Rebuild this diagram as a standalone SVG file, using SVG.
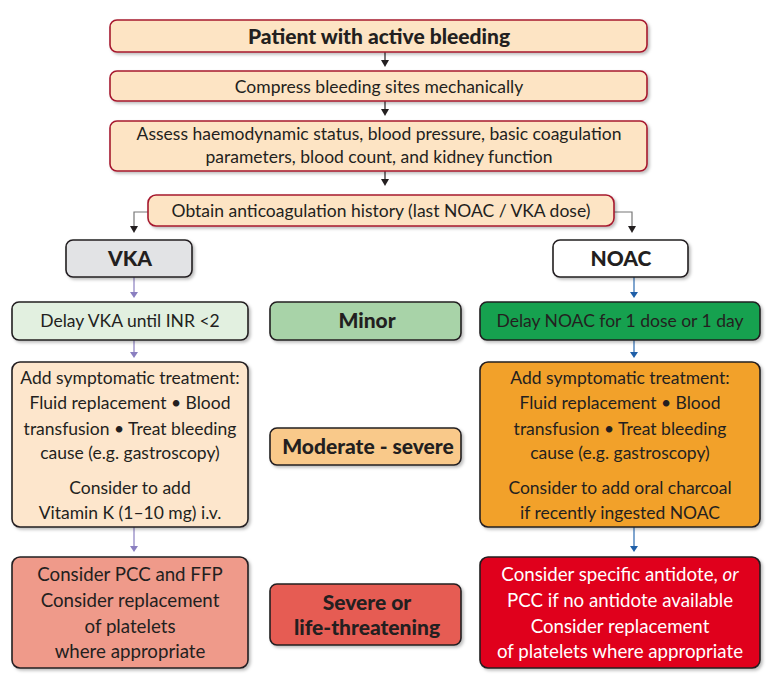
<svg xmlns="http://www.w3.org/2000/svg" width="768" height="689" viewBox="0 0 768 689">
<defs>
<filter id="sh" x="-10%" y="-10%" width="130%" height="140%">
<feDropShadow dx="2" dy="2" stdDeviation="1.5" flood-color="#000" flood-opacity="0.25"/>
</filter>
</defs>
<style>
text{font-family:Lato,"Open Sans","Liberation Sans",sans-serif;font-size:17.5px;fill:#231f20;text-anchor:middle}
.b{font-weight:900;font-size:21px}
.s{font-size:18.7px}
.w{fill:#fff}
.top{fill:#fde4c4;stroke:#a6192e;stroke-width:1.6;filter:url(#sh)}
.bx{stroke:#231f20;stroke-width:1.6;filter:url(#sh)}
.ln{fill:none;stroke-width:1.2}
</style>
<rect width="768" height="689" fill="#fff"/>

<g id="connectors">
<line class="ln" x1="385" y1="52" x2="385" y2="60" stroke="#231f20"/><path d="M381,60 L389,60 L385,67 Z" fill="#231f20"/>
<line class="ln" x1="385" y1="101" x2="385" y2="109" stroke="#231f20"/><path d="M381,109 L389,109 L385,116 Z" fill="#231f20"/>
<line class="ln" x1="385" y1="171" x2="385" y2="179" stroke="#231f20"/><path d="M381,179 L389,179 L385,186 Z" fill="#231f20"/>
<path class="ln" d="M148,212 H134 V226" stroke="#777"/><path d="M130,226 L138,226 L134,233 Z" fill="#231f20"/>
<path class="ln" d="M614,212 H632 V226" stroke="#777"/><path d="M628,226 L636,226 L632,233 Z" fill="#231f20"/>
<line class="ln" x1="134" y1="277" x2="134" y2="292" stroke="#8a7fc0"/><path d="M130,292 L138,292 L134,298 Z" fill="#8a7fc0"/>
<line class="ln" x1="134" y1="340" x2="134" y2="352" stroke="#8a7fc0"/><path d="M130,352 L138,352 L134,358 Z" fill="#8a7fc0"/>
<line class="ln" x1="134" y1="527" x2="134" y2="546" stroke="#8a7fc0"/><path d="M130,546 L138,546 L134,552 Z" fill="#8a7fc0"/>
<line class="ln" x1="634" y1="277" x2="634" y2="292" stroke="#2a6ab0"/><path d="M630,292 L638,292 L634,298 Z" fill="#1f5fa8"/>
<line class="ln" x1="634" y1="340" x2="634" y2="352" stroke="#2a6ab0"/><path d="M630,352 L638,352 L634,358 Z" fill="#1f5fa8"/>
<line class="ln" x1="634" y1="527" x2="634" y2="546" stroke="#2a6ab0"/><path d="M630,546 L638,546 L634,552 Z" fill="#1f5fa8"/>
</g>

<g id="n1"><rect class="top" x="110" y="20" width="537" height="32" rx="7"/><text class="b" x="379" y="44">Patient with active bleeding</text></g>
<g id="n2"><rect class="top" x="110" y="71" width="537" height="30" rx="7"/><text x="379" y="93">Compress bleeding sites mechanically</text></g>
<g id="n3"><rect class="top" x="110" y="121" width="537" height="50" rx="7"/><text x="379" y="140">Assess haemodynamic status, blood pressure, basic coagulation</text><text x="379" y="163">parameters, blood count, and kidney function</text></g>
<g id="n4"><rect class="top" x="148" y="195" width="466" height="31" rx="8"/><text x="381" y="217">Obtain anticoagulation history (last NOAC / VKA dose)</text></g>

<g id="vka"><rect class="bx" x="66" y="240" width="126" height="37" rx="7" fill="#e2e3e5"/><text class="b" x="130" y="266">VKA</text></g>
<g id="noac"><rect class="bx" x="553" y="240" width="135" height="37" rx="7" fill="#fff"/><text class="b" x="621" y="266">NOAC</text></g>

<g id="vka-minor"><rect class="bx" x="12" y="302" width="236" height="38" rx="7" fill="#e2f0e0"/><text x="130" y="327">Delay VKA until INR &lt;2</text></g>
<g id="minor"><rect class="bx" x="270" y="302" width="191" height="38" rx="7" fill="#a8d3a8"/><text class="b" x="367" y="328">Minor</text></g>
<g id="noac-minor"><rect class="bx" x="480" y="302" width="280" height="38" rx="7" fill="#12a150"/><text x="620" y="327">Delay NOAC for 1 dose or 1 day</text></g>

<g id="vka-moderate"><rect class="bx" x="12" y="362" width="236" height="165" rx="8" fill="#fde6cc"/>
<text x="130" y="384">Add symptomatic treatment:</text>
<text x="130" y="409">Fluid replacement • Blood</text>
<text x="130" y="435">transfusion • Treat bleeding</text>
<text x="130" y="459">cause (e.g. gastroscopy)</text>
<text x="130" y="494">Consider to add</text>
<text x="130" y="519">Vitamin K (1–10 mg) i.v.</text></g>
<g id="moderate"><rect class="bx" x="270" y="428" width="191" height="37" rx="7" fill="#f9c98a"/><text class="b" x="368" y="454">Moderate - severe</text></g>
<g id="noac-moderate"><rect class="bx" x="480" y="362" width="280" height="165" rx="8" fill="#f2a12b"/>
<text x="620" y="384">Add symptomatic treatment:</text>
<text x="620" y="409">Fluid replacement • Blood</text>
<text x="620" y="435">transfusion • Treat bleeding</text>
<text x="620" y="459">cause (e.g. gastroscopy)</text>
<text x="620" y="494">Consider to add oral charcoal</text>
<text x="620" y="519">if recently ingested NOAC</text></g>

<g id="vka-severe"><rect class="bx" x="12" y="557" width="236" height="111" rx="8" fill="#ef9a8a"/>
<text class="s" x="130" y="581">Consider PCC and FFP</text>
<text class="s" x="130" y="607">Consider replacement</text>
<text class="s" x="130" y="633">of platelets</text>
<text class="s" x="130" y="658">where appropriate</text></g>
<g id="severe"><rect class="bx" x="270" y="584" width="191" height="61" rx="7" fill="#e65c52"/><text class="b" x="367" y="610">Severe or</text><text class="b" x="367" y="635">life-threatening</text></g>
<g id="noac-severe"><rect class="bx" x="480" y="557" width="280" height="111" rx="8" fill="#e0001c"/>
<text class="s w" x="620" y="581">Consider specific antidote, <tspan font-style="italic" class="w">or</tspan></text>
<text class="s w" x="620" y="607">PCC if no antidote available</text>
<text class="s w" x="620" y="633">Consider replacement</text>
<text class="s w" x="620" y="658">of platelets where appropriate</text></g>
</svg>
